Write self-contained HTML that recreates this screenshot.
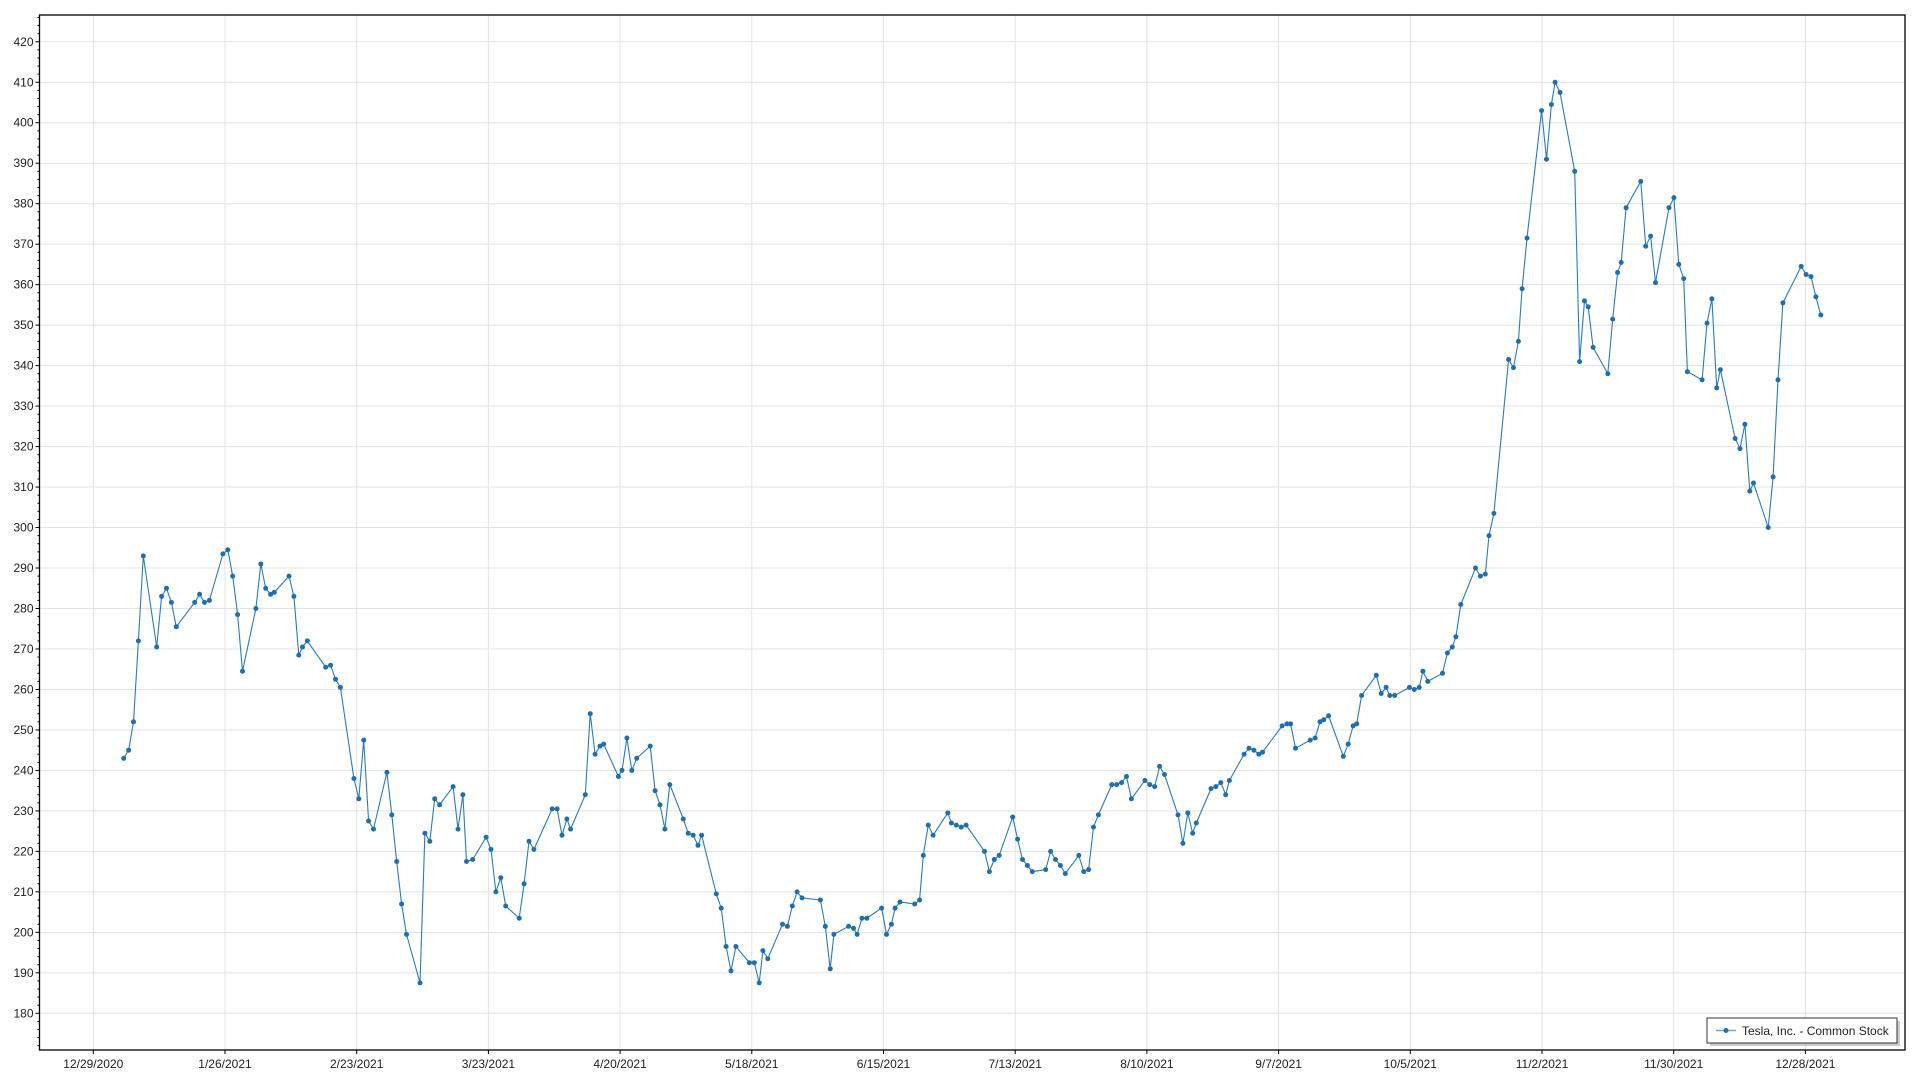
<!DOCTYPE html>
<html><head><meta charset="utf-8"><style>
html,body{margin:0;padding:0;background:#fff;}
svg{display:block;font-family:"Liberation Sans","DejaVu Sans",sans-serif;}
</style></head><body>
<svg id="c" width="1920" height="1080" xmlns="http://www.w3.org/2000/svg"></svg>
<script>
const S=document.getElementById('c');
const L=39.5,R=1905,T=15,B=1050;
const vy=v=>1013.3-(v-180)*4.048;
let h='';
// grid
for(let v=180;v<=420;v+=10){const y=vy(v);h+=`<line x1="${L}" x2="${R}" y1="${y}" y2="${y}" stroke="#e3e3e3" stroke-width="1"/>`;
h+=`<line x1="${L-4}" x2="${L}" y1="${y}" y2="${y}" stroke="#000"/>`;
h+=`<text x="${L-6}" y="${y+4}" font-size="12" text-anchor="end" fill="#222">${v}</text>`;}
for(let v=172;v<=426;v+=2){if(v%10){const y=vy(v);h+=`<line x1="${L-2}" x2="${L}" y1="${y}" y2="${y}" stroke="#000"/>`;}}
const dl=["12/29/2020","1/26/2021","2/23/2021","3/23/2021","4/20/2021","5/18/2021","6/15/2021","7/13/2021","8/10/2021","9/7/2021","10/5/2021","11/2/2021","11/30/2021","12/28/2021"];
dl.forEach((d,k)=>{const x=93.3+k*131.7;h+=`<line x1="${x}" x2="${x}" y1="${T}" y2="${B}" stroke="#e3e3e3"/>`;
h+=`<line x1="${x}" x2="${x}" y1="${B}" y2="${B+4}" stroke="#000"/>`;
h+=`<text x="${x}" y="${B+18}" font-size="12" text-anchor="middle" fill="#222">${d}</text>`;});
h+=`<rect x="${L}" y="${T}" width="${R-L}" height="${B-T}" fill="none" stroke="#000" stroke-width="1.3"/>`;
const P=[101,243,105,245,109,252,113,272,117,293,128,270.5,132,283,136,285,140,281.5,144,275.5,159,281.5,163,283.5,167,281.5,171,282,182,293.5,186,294.5,190,288,194,278.5,198,264.5,209,280,213,291,217,285,221,283.5,224,284,236,288,240,283,244,268.5,247,270.5,251,272,266,265.5,270,266,274,262.5,278,260.5,289,238,293,233,297,247.5,301,227.5,305,225.5,316,239.5,320,229,324,217.5,328,207,332,199.5,343,187.5,347,224.5,351,222.5,355,233,359,231.5,370,236,374,225.5,378,234,381,217.5,386,218,397,223.5,401,220.5,405,210,409,213.5,413,206.5,424,203.5,428,212,432,222.5,436,220.5,451,230.5,455,230.5,459,224,463,228,466,225.5,478,234,482,254,486,244,490,246,493,246.5,505,238.5,508,240,512,248,516,240,520,243,531,246,535,235,539,231.5,543,225.5,547,236.5,558,228,562,224.5,566,224,570,221.5,573,224,585,209.5,589,206,593,196.5,597,190.5,601,196.5,612,192.5,616,192.5,620,187.5,623,195.5,627,193.5,639,202,643,201.5,647,206.5,651,210,655,208.5,670,208,674,201.5,678,191,681,199.5,693,201.5,697,201,700,199.5,704,203.5,708,203.5,720,206,724,199.5,728,202,731,206,735,207.5,747,207,751,208,754,219,758,226.5,762,224,774,229.5,777,227,781,226.5,785,226,789,226.5,804,220,808,215,812,218,816,219,827,228.5,831,223,835,218,839,216.5,843,215,854,215.5,858,220,862,218,866,216.5,870,214.5,881,219,885,215,889,215.5,893,226,897,229,908,236.5,912,236.5,916,237,920,238.5,924,233,935,237.5,939,236.5,943,236,947,241,951,239,962,229,966,222,970,229.5,974,224.5,977,227,989,235.5,993,236,997,237,1001,234,1004,237.5,1016,244,1020,245.5,1024,245,1028,244,1031,244.5,1047,251,1051,251.5,1054,251.5,1058,245.5,1070,247.5,1074,248,1078,252,1081,252.5,1085,253.5,1097,243.5,1101,246.5,1105,251,1108,251.5,1112,258.5,1124,263.5,1128,259,1132,260.5,1135,258.5,1139,258.5,1151,260.5,1155,260,1159,260.5,1162,264.5,1166,262,1178,264,1182,269,1186,270.5,1189,273,1193,281,1205,290,1209,288,1213,288.5,1216,298,1220,303.5,1232,341.5,1236,339.5,1240,346,1243,359,1247,371.5,1259,403,1263,391,1267,404.5,1270,410,1274,407.5,1286,388,1290,341,1294,356,1297,354.5,1301,344.5,1313,338,1317,351.5,1321,363,1324,365.5,1328,379,1340,385.5,1344,369.5,1348,372,1352,360.5,1363,379,1367,381.5,1371,365,1375,361.5,1378,338.5,1390,336.5,1394,350.5,1398,356.5,1402,334.5,1405,339,1417,322,1421,319.5,1425,325.5,1429,309,1432,311,1444,300,1448,312.5,1452,336.5,1456,355.5,1471,364.5,1475,362.5,1479,362,1483,357,1487,352.5];
let pts=[];for(let i=0;i<P.length;i+=2)pts.push([(P[i]*1.2245).toFixed(1),vy(P[i+1]).toFixed(1)]);
h+=`<polyline fill="none" stroke="#2a7bbd" stroke-width="1.1" points="${pts.map(p=>p.join(',')).join(' ')}"/>`;
pts.forEach(p=>h+=`<circle cx="${p[0]}" cy="${p[1]}" r="2.5" fill="#1f6fae"/>`);
// legend
h+=`<rect x="1710" y="1021" width="190" height="25" fill="#999" opacity="0.5"/>`;
h+=`<rect x="1707" y="1018" width="190" height="25" fill="#fff" stroke="#333" stroke-width="1"/>`;
h+=`<line x1="1716" x2="1736" y1="1030.5" y2="1030.5" stroke="#6aa6d6" stroke-width="1.5"/><circle cx="1726" cy="1030.5" r="2.5" fill="#1f6fae"/>`;
h+=`<text x="1742" y="1035" font-size="12" fill="#222">Tesla, Inc.  - Common Stock</text>`;
S.innerHTML=h;
</script>
</body></html>
